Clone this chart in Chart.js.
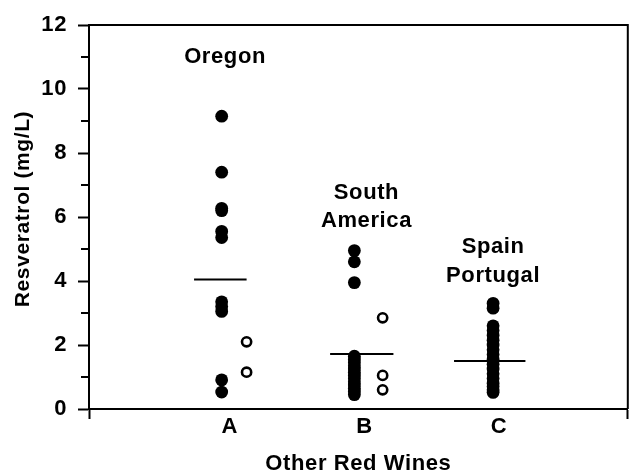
<!DOCTYPE html>
<html>
<head>
<meta charset="utf-8">
<script src="https://cdn.jsdelivr.net/npm/chart.js@4"></script>
<style>
  html, body { margin: 0; padding: 0; background: #fff; }
  #wrap { width: 635px; height: 475px; }
</style>
</head>
<body>
<div id="wrap"><canvas id="c" width="635" height="475"></canvas></div>
<script>
// ---- data ----
const categories = ['A', 'B', 'C'];
const groupNames = [['Oregon'], ['South', 'America'], ['Spain', 'Portugal']];
const yTickValues = [0, 2, 4, 6, 8, 10, 12];
const yTitle = 'Resveratrol (mg/L)';
const xTitle = 'Other Red Wines';

const oregonFilled = [9.15, 7.4, 6.27, 6.2, 5.55, 5.36, 3.35, 3.2, 3.05, 0.91, 0.53];
const oregonOpen = [2.1, 1.15];
const southAmericaFilled = [4.95, 4.6, 3.95, 1.65, 1.55, 1.45, 1.35, 1.25, 1.15, 1.05, 0.95, 0.85, 0.75, 0.65, 0.55, 0.45];
const southAmericaOpen = [2.85, 1.05, 0.6];
const spainPortugalFilled = [3.3, 3.15, 2.6, 2.45, 2.3, 2.15, 2.0, 1.85, 1.7, 1.55, 1.4, 1.25, 1.1, 0.95, 0.8, 0.7, 0.6, 0.52];
const spainPortugalOpen = [];
const groupMeans = [4.05, 1.72, 1.5];

// ---- layout (data-unit placement, not values) ----
const filledX = [0.985, 1.97, 3.0];
const openX = [1.17, 2.18, 3.2];
const meanFrom = [0.78, 1.79, 2.71];
const meanTo = [1.17, 2.26, 3.24];
const nameAnchor = [[1.01, 11.0], [2.06, 6.75], [3.0, 5.05]];
const nameLineStep = 0.88;

const filledSets = [oregonFilled, southAmericaFilled, spainPortugalFilled];
const openSets = [oregonOpen, southAmericaOpen, spainPortugalOpen];

const FONT = '"Liberation Sans", Arial, Helvetica, sans-serif';
const datasets = [];
filledSets.forEach((vals, i) => {
  datasets.push({
    type: 'scatter',
    data: vals.map(v => ({x: filledX[i], y: v})),
    pointRadius: 6.4, pointHoverRadius: 6.4,
    backgroundColor: '#000', borderColor: '#000', borderWidth: 0
  });
});
openSets.forEach((vals, i) => {
  datasets.push({
    type: 'scatter',
    data: vals.map(v => ({x: openX[i], y: v})),
    pointRadius: 4.6, pointHoverRadius: 4.6,
    backgroundColor: '#fff', borderColor: '#000', borderWidth: 2.6
  });
});
groupMeans.forEach((m, i) => {
  datasets.push({
    type: 'line',
    data: [{x: meanFrom[i], y: m}, {x: meanTo[i], y: m}],
    borderColor: '#000', borderWidth: 2, pointRadius: 0, fill: false
  });
});

const decor = {
  id: 'decor',
  beforeDraw(chart) { chart.ctx.letterSpacing = '0.6px'; },
  afterDraw(chart) {
    const {ctx, chartArea: a, scales} = chart;
    ctx.save();
    ctx.strokeStyle = '#000';
    ctx.lineWidth = 2;
    ctx.beginPath();
    ctx.moveTo(a.left - 1, a.top); ctx.lineTo(a.right, a.top); ctx.lineTo(a.right, a.bottom);
    ctx.stroke();
    // minor y ticks (shorter)
    for (let v = 1; v < 12; v += 2) {
      const y = scales.y.getPixelForValue(v);
      ctx.beginPath(); ctx.moveTo(a.left - 8, y); ctx.lineTo(a.left, y); ctx.stroke();
    }
    ctx.fillStyle = '#000';
    ctx.letterSpacing = '0.6px';
    ctx.font = 'bold 22px ' + FONT;
    ctx.textAlign = 'center';
    ctx.textBaseline = 'middle';
    groupNames.forEach((lines, i) => {
      lines.forEach((t, j) => {
        const x = scales.x.getPixelForValue(nameAnchor[i][0]);
        const y = scales.y.getPixelForValue(nameAnchor[i][1] - j * nameLineStep);
        ctx.fillText(t, x, y);
      });
    });
    // y axis title
    ctx.font = 'bold 21px ' + FONT;
    ctx.translate(23, (a.top + a.bottom) / 2 - 8);
    ctx.rotate(-Math.PI / 2);
    ctx.fillText(yTitle, 0, 0);
    ctx.restore();
  }
};

new Chart(document.getElementById('c'), {
  data: { datasets },
  options: {
    responsive: false,
    animation: false,
    events: [],
    layout: { padding: { top: 25, right: 2, left: 0, bottom: 0 } },
    plugins: { legend: { display: false }, tooltip: { enabled: false } },
    scales: {
      x: {
        type: 'linear', min: 0, max: 4,
        afterFit(s) { s.height = 66; },
        afterBuildTicks(s) { s.ticks = [0, 1, 2, 3, 4].map(v => ({value: v})); },
        border: { display: true, color: '#000', width: 2 },
        grid: {
          drawOnChartArea: false, tickLength: 10, tickWidth: 2,
          tickColor: c => (c.tick && (c.tick.value === 0 || c.tick.value === 4)) ? '#000' : 'rgba(0,0,0,0)'
        },
        ticks: {
          padding: -5, labelOffset: 6, color: '#000', maxRotation: 0, autoSkip: false,
          font: { family: FONT, size: 22, weight: 'bold' },
          callback: v => categories[v - 1] || ''
        },
        title: {
          display: true, text: xTitle, color: '#000',
          font: { family: FONT, size: 22, weight: 'bold', lineHeight: 1.05 },
          padding: { top: 0, bottom: 0 }
        }
      },
      y: {
        type: 'linear', min: 0, max: 12,
        afterFit(s) { s.width = 89; },
        afterBuildTicks(s) {
          s.ticks = yTickValues.map(v => ({value: v}));
        },
        border: { display: true, color: '#000', width: 2 },
        grid: { drawOnChartArea: false, tickLength: 11, tickWidth: 2, tickColor: '#000' },
        ticks: {
          padding: 11, color: '#000', autoSkip: false,
          font: { family: FONT, size: 22, weight: 'bold' },
          callback: v => String(v)
        },
        title: { display: false }
      }
    }
  },
  plugins: [decor]
});
</script>
</body>
</html>
